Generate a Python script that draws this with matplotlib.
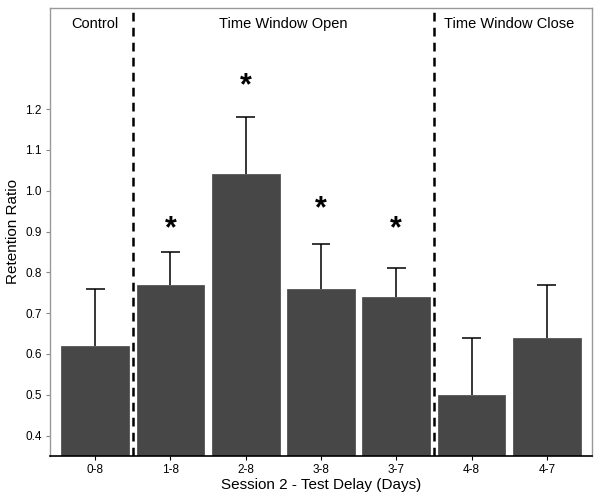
import matplotlib
matplotlib.use('Agg')
import matplotlib.pyplot as plt
import numpy as np

plt.rcParams['font.family'] = ['Liberation Sans', 'DejaVu Sans']

delays = ['0-8', '1-8', '2-8', '3-8', '3-7', '4-8', '4-7']
ratio = [0.62, 0.77, 1.04, 0.76, 0.74, 0.50, 0.64]
err_top = [0.76, 0.85, 1.18, 0.87, 0.81, 0.64, 0.77]
star_idx = [1, 2, 3, 4]
star_y = [0.905, 1.255, 0.955, 0.905]
groups = ['Control', 'Time Window Open', 'Time Window Close']
group_x = [0, 2.5, 5.5]
dividers = [0.5, 4.5]
yticks = [0.4, 0.5, 0.6, 0.7, 0.8, 0.9, 1.0, 1.1, 1.2]

fig = plt.figure(figsize=(6, 5), dpi=100)
ax = fig.add_axes([0.0833, 0.088, 0.9034, 0.896])

x = np.arange(len(delays))

ax.bar(x, np.array(ratio) - 0.2, bottom=0.2, width=0.9, color='#474747',
       edgecolor='#555555', linewidth=0.6, zorder=2)
# upper error bars only
ax.vlines(x, ratio, err_top, color='black', linewidth=1.1, zorder=1)
ax.hlines(err_top, x - 0.125, x + 0.125, color='black', linewidth=1.1, zorder=1)

for d in dividers:
    ax.axvline(d, color='black', linestyle=(0, (3.5, 2.5)), linewidth=1.8, zorder=3)

for i, y in zip(star_idx, star_y):
    ax.text(i, y, '*', ha='center', va='center', fontsize=22, fontweight='bold')

for g, gx in zip(groups, group_x):
    ax.text(gx, 1.41, g, ha='center', va='center', fontsize=10.5)

ax.set_xlim(-0.6, 6.6)
ax.set_ylim(0.35, 1.448)
ax.set_xticks(x)
ax.set_xticklabels(delays)
ax.set_yticks(yticks)
ax.set_yticklabels(['%.1f' % t for t in yticks])
ax.tick_params(labelsize=8.5, length=3, color='#888888', pad=3)

for s in ['left', 'top', 'right']:
    ax.spines[s].set_color('#999999')
    ax.spines[s].set_linewidth(1)
ax.spines['bottom'].set_color('black')
ax.spines['bottom'].set_linewidth(1.2)
ax.tick_params(axis='x', color='black')

ax.set_xlabel('Session 2 - Test Delay (Days)', fontsize=11, labelpad=1)
ax.set_ylabel('Retention Ratio', fontsize=11, labelpad=4)

fig.savefig('out.png', dpi=100)
